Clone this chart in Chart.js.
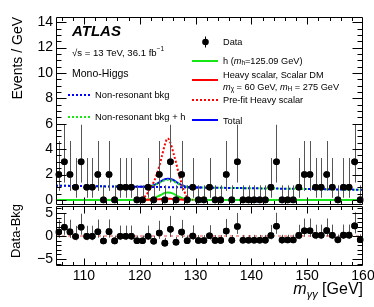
<!DOCTYPE html>
<html>
<head>
<meta charset="utf-8">
<script src="https://cdn.jsdelivr.net/npm/chart.js@4.4.1/dist/chart.umd.min.js"></script>
<style>
  html, body { margin: 0; padding: 0; background: #fff; }
  #wrap { position: relative; width: 374px; height: 307px; }
  canvas { position: absolute; left: 0; }
  #upper { top: 0; width: 374px; height: 206px; }
  #lower { top: 200px; width: 374px; height: 107px; }
</style>
</head>
<body>
<div id="wrap">
  <canvas id="upper" width="374" height="206"></canvas>
  <canvas id="lower" width="374" height="107"></canvas>
</div>
<script>
const FONT = '"Liberation Sans", Arial, Helvetica, sans-serif';

// 1 GeV bins
const binCenters = [105.5, 106.5, 107.5, 108.5, 109.5, 110.5, 111.5, 112.5, 113.5, 114.5,
    115.5, 116.5, 117.5, 118.5, 119.5, 120.5, 121.5, 122.5, 123.5, 124.5,
    125.5, 126.5, 127.5, 128.5, 129.5, 130.5, 131.5, 132.5, 133.5, 134.5,
    135.5, 136.5, 137.5, 138.5, 139.5, 140.5, 141.5, 142.5, 143.5, 144.5,
    145.5, 146.5, 147.5, 148.5, 149.5, 150.5, 151.5, 152.5, 153.5, 154.5,
    155.5, 156.5, 157.5, 158.5, 159.5];
const eventCounts = [2, 3, 2, 1, 3, 1, 1, 2, 0, 2,
    0, 1, 1, 1, 0, 0, 1, 0, 2, 0,
    3, 0, 2, 0, 1, 0, 0, 1, 0, 0,
    2, 0, 3, 0, 0, 0, 0, 0, 1, 3,
    0, 0, 0, 1, 2, 2, 1, 1, 2, 1,
    0, 1, 1, 3, 0];
const dataMinusBkg = [0.88, 1.89, 0.89, -0.10, 1.91, -0.09, -0.08, 0.92, -1.07, 0.94,
    -1.06, -0.05, -0.05, -0.04, -1.04, -1.04, -0.05, -1.15, 0.66, -1.55,
    1.44, -1.37, 0.85, -1.02, 0.01, -0.97, -0.97, 0.04, -0.95, -0.95,
    1.06, -0.94, 2.07, -0.93, -0.92, -0.91, -0.91, -0.90, 0.10, 2.11,
    -0.89, -0.88, -0.87, 0.13, 1.14, 1.14, 0.15, 0.16, 1.16, 0.17,
    -0.83, 0.18, 0.18, 2.19, -0.80];
// poisson error bars, indexed by the count in the bin
const errDown = [0, 0.83, 1.29, 1.63];
const errUp = [1.15, 2.30, 2.64, 2.92];

// fit curves, sampled at curveMass
const curveMass = [105, 110, 115, 119, 119.5, 120, 120.5, 121, 121.5, 122, 122.5, 123, 123.5, 124, 124.5,
    125, 125.5, 126, 126.5, 127, 127.5, 128, 128.5, 129, 129.5, 130, 130.5, 131,
    135, 140, 145, 150, 155, 160];
const nonResBkg = [1.12, 1.09, 1.06, 1.04, 1.04, 1.03, 1.03, 1.03, 1.02, 1.02, 1.02, 1.02, 1.01, 1.01, 1.01,
    1.00, 1.00, 1.00, 1.00, 0.99, 0.99, 0.99, 0.98, 0.98, 0.98, 0.97, 0.97, 0.97,
    0.95, 0.92, 0.89, 0.86, 0.83, 0.80];
const nonResBkgPlusH = [1.12, 1.09, 1.06, 1.04, 1.04, 1.03, 1.04, 1.04, 1.05, 1.09, 1.15, 1.24, 1.34, 1.45, 1.55,
    1.58, 1.56, 1.49, 1.37, 1.24, 1.15, 1.08, 1.02, 1.00, 0.99, 0.97, 0.97, 0.97,
    0.95, 0.92, 0.89, 0.86, 0.83, 0.80];
const higgsSM = [0, 0, 0, 0, 0, 0, 0.01, 0.01, 0.03, 0.07, 0.13, 0.22, 0.33, 0.44, 0.54,
    0.58, 0.56, 0.49, 0.37, 0.25, 0.16, 0.09, 0.04, 0.02, 0.01, 0, 0, 0,
    0, 0, 0, 0, 0, 0];
const heavyScalarFit = [null, null, null, null, 0, 0, 0, 0, 0.01, 0.01, 0.02, 0.03, 0.05, 0.07, 0.08,
    0.09, 0.09, 0.08, 0.06, 0.04, 0.03, 0.01, 0.01, 0, null, null, null, null,
    null, null, null, null, null, null];
const heavyScalarPrefit = [null, null, null, null, 0, 0.03, 0.15, 0.30, 0.60, 1.00, 1.40, 1.95, 2.65, 3.50, 4.35,
    4.85, 4.50, 3.75, 2.95, 2.05, 1.30, 0.66, 0.20, 0.05, 0, null, null, null,
    null, null, null, null, null, null];
const totalFit = [null, null, null, 1.04, 1.04, 1.03, 1.04, 1.04, 1.06, 1.10, 1.17, 1.27, 1.39, 1.52, 1.63,
    1.67, 1.65, 1.57, 1.43, 1.28, 1.18, 1.09, 1.03, 1.00, 0.99, 0.97, 0.97, 0.97,
    null, null, null, null, null, null];
const ratioLineMass = [105, 160];
const ratioLineValue = [0, 0];

const xMajorTicks = [110, 120, 130, 140, 150, 160];
const upperYTicks = [0, 2, 4, 6, 8, 10, 12, 14];
const lowerYTicks = [-5, 0, 5];

const BLUE = '#0000ff';
const GREEN = '#16e616';
const RED = '#ff0000';

const xy = (xs, ys) => xs.map((x, i) => ({ x: x, y: ys[i] }));

function curve(xs, ys, color, dash, order) {
    return {
        type: 'line',
        data: xy(xs, ys),
        borderColor: color,
        borderWidth: 2,
        borderDash: dash,
        pointRadius: 0,
        cubicInterpolationMode: 'monotone',
        spanGaps: false,
        order: order
    };
}

// y axis: fixed width, no extra room for the end labels
const fixedAxis = s => { s.width = 56; s.paddingTop = 0; s.paddingBottom = 0; };

const errorBars = {
    id: 'errorBars',
    afterDatasetDraw(chart, args, o) {
        if (args.index !== o.index) return;
        const { ctx, scales: { x, y } } = chart;
        ctx.save();
        ctx.strokeStyle = '#555';
        ctx.lineWidth = 1;
        ctx.beginPath();
        o.values.forEach((v, i) => {
            const n = eventCounts[i];
            const px = Math.round(x.getPixelForValue(binCenters[i])) + 0.5;
            ctx.moveTo(px, y.getPixelForValue(v - errDown[n]));
            ctx.lineTo(px, y.getPixelForValue(v + errUp[n]));
        });
        ctx.stroke();
        // redraw markers over the bars
        ctx.fillStyle = '#000';
        o.values.forEach((v, i) => {
            ctx.beginPath();
            ctx.arc(x.getPixelForValue(binCenters[i]), y.getPixelForValue(v), 3.3, 0, Math.PI * 2);
            ctx.fill();
        });
        ctx.restore();
    }
};

const atlasFrame = {
    id: 'atlasFrame',
    afterDraw(chart, args, o) {
        const { ctx, chartArea: a, scales: { x, y } } = chart;
        const L = Math.round(a.left) + 0.5, R = Math.round(a.right) - 0.5;
        const T = Math.round(a.top) + 0.5, B = Math.round(a.bottom) - 0.5;
        ctx.save();
        ctx.strokeStyle = '#000';
        ctx.lineWidth = 1;
        ctx.beginPath();
        ctx.rect(L, T, R - L, B - T);
        for (let v = 106; v < 160; v += 2) {
            const len = xMajorTicks.includes(v) ? o.xMajor : o.xMinor;
            const p = Math.round(x.getPixelForValue(v)) + 0.5;
            ctx.moveTo(p, B); ctx.lineTo(p, B - len);
            ctx.moveTo(p, T); ctx.lineTo(p, T + len);
        }
        for (let v = o.yFrom; v <= o.yTo + 1e-9; v += o.yStep) {
            const len = o.yMajorTicks.includes(v) ? o.yMajor : o.yMinor;
            const p = Math.round(y.getPixelForValue(v)) + 0.5;
            ctx.moveTo(L, p); ctx.lineTo(L + len, p);
            ctx.moveTo(R, p); ctx.lineTo(R - len, p);
        }
        ctx.stroke();
        ctx.restore();
    }
};

// draws a run of text pieces: [text, size, style, dy]
function richText(ctx, x, y, parts, align) {
    const fontOf = p => (p[2] || '') + ' ' + p[1] + 'px ' + FONT;
    let w = 0;
    parts.forEach(p => { ctx.font = fontOf(p); w += ctx.measureText(p[0]).width; });
    let cx = align === 'right' ? x - w : x;
    parts.forEach(p => {
        ctx.font = fontOf(p);
        ctx.fillText(p[0], cx, y + (p[3] || 0));
        cx += ctx.measureText(p[0]).width;
    });
}

function sampleLine(ctx, x1, x2, y, color, dash) {
    ctx.save();
    ctx.strokeStyle = color;
    ctx.lineWidth = 2;
    ctx.setLineDash(dash);
    ctx.beginPath();
    ctx.moveTo(x1, y);
    ctx.lineTo(x2, y);
    ctx.stroke();
    ctx.restore();
}

const upperText = {
    id: 'upperText',
    afterDraw(chart) {
        const ctx = chart.ctx;
        ctx.save();
        ctx.fillStyle = '#000';
        ctx.textBaseline = 'middle';

        ctx.save();
        ctx.translate(18, 17);
        ctx.rotate(-Math.PI / 2);
        ctx.textAlign = 'right';
        ctx.font = '14px ' + FONT;
        ctx.fillText('Events / GeV', 0, 0);
        ctx.restore();

        ctx.textAlign = 'left';
        richText(ctx, 72, 32, [['ATLAS', 15, 'italic bold']]);
        richText(ctx, 72, 53, [['\u221As = 13 TeV, 36.1 fb', 9.6], ['\u22121', 6.5, '', -4]]);
        richText(ctx, 72, 74, [['Mono-Higgs', 10.5]]);

        sampleLine(ctx, 68, 90, 95, BLUE, [2, 2]);
        richText(ctx, 95, 95, [['Non-resonant bkg', 9.4]]);
        sampleLine(ctx, 68, 90, 117, GREEN, [2, 2]);
        richText(ctx, 95, 117, [['Non-resonant bkg + h', 9.4]]);

        // data marker
        ctx.strokeStyle = '#000';
        ctx.lineWidth = 1;
        ctx.beginPath();
        ctx.moveTo(205.5, 36.5); ctx.lineTo(205.5, 47.5);
        ctx.stroke();
        ctx.beginPath();
        ctx.arc(205.5, 42, 3.3, 0, Math.PI * 2);
        ctx.fill();
        const fs = 9.2;
        richText(ctx, 223, 42, [['Data', fs]]);

        sampleLine(ctx, 192, 218, 61, GREEN, []);
        richText(ctx, 223, 61, [['h (', fs], ['m', fs, 'italic'], ['h', 6.5, '', 2.5], ['=125.09 GeV)', fs]]);
        sampleLine(ctx, 192, 218, 80, RED, []);
        richText(ctx, 223, 75, [['Heavy scalar, Scalar DM', fs]]);
        richText(ctx, 223, 87, [['m', fs, 'italic'], ['\u03C7', 6.5, '', 2.5], [' = 60 GeV, ', fs],
            ['m', fs, 'italic'], ['H', 6.5, '', 2.5], [' = 275 GeV', fs]]);
        sampleLine(ctx, 192, 218, 100, RED, [2, 2]);
        richText(ctx, 223, 100, [['Pre-fit Heavy scalar', fs]]);
        sampleLine(ctx, 192, 218, 120, BLUE, []);
        richText(ctx, 223, 121, [['Total', fs]]);
        ctx.restore();
    }
};

const lowerText = {
    id: 'lowerText',
    afterDraw(chart) {
        const ctx = chart.ctx;
        ctx.save();
        ctx.fillStyle = '#000';
        ctx.save();
        ctx.translate(16, 31);
        ctx.rotate(-Math.PI / 2);
        ctx.textAlign = 'center';
        ctx.textBaseline = 'middle';
        ctx.font = '13px ' + FONT;
        ctx.fillText('Data-Bkg', 0, 0);
        ctx.restore();
        ctx.textAlign = 'left';
        ctx.textBaseline = 'alphabetic';
        richText(ctx, 363, 94, [['m', 16, 'italic'], ['\u03B3\u03B3', 11, 'italic', 4], [' [GeV]', 16]], 'right');
        ctx.restore();
    }
};

const tickFont = { family: FONT, size: 14 };

new Chart(document.getElementById('upper'), {
    type: 'scatter',
    data: {
        datasets: [
            {
                data: xy(binCenters, eventCounts),
                pointRadius: 3.3,
                pointBackgroundColor: '#000',
                pointBorderWidth: 0,
                order: 0
            },
            curve(curveMass, heavyScalarPrefit, RED, [2, 2], 2),
            curve(curveMass, nonResBkg, BLUE, [2, 2], 3),
            curve(curveMass, nonResBkgPlusH, GREEN, [2, 2], 4),
            curve(curveMass, totalFit, BLUE, [], 5),
            curve(curveMass, heavyScalarFit, RED, [], 6),
            curve(curveMass, higgsSM, GREEN, [], 7)
        ]
    },
    options: {
        responsive: false,
        maintainAspectRatio: false,
        animation: false,
        events: [],
        layout: { autoPadding: false, padding: { top: 16.5, right: 11, left: 0, bottom: 1 } },
        plugins: {
            legend: { display: false },
            tooltip: { enabled: false },
            errorBars: { index: 0, values: eventCounts },
            atlasFrame: { xMajor: 7, xMinor: 3.5, yFrom: 0, yTo: 14, yStep: 0.5, yMajorTicks: upperYTicks, yMajor: 10, yMinor: 5 }
        },
        scales: {
            x: { type: 'linear', min: 105, max: 160, display: false },
            y: {
                min: -0.4,
                max: 14.45,
                afterBuildTicks: s => { s.ticks = upperYTicks.map(v => ({ value: v })); },
                afterFit: fixedAxis,
                ticks: { font: tickFont, color: '#000', padding: 3 },
                grid: { display: false, drawTicks: false },
                border: { display: false }
            }
        }
    },
    plugins: [errorBars, atlasFrame, upperText]
});

new Chart(document.getElementById('lower'), {
    type: 'scatter',
    data: {
        datasets: [
            {
                data: xy(binCenters, dataMinusBkg),
                pointRadius: 3.3,
                pointBackgroundColor: '#000',
                pointBorderWidth: 0,
                order: 0
            },
            {
                type: 'line',
                data: xy(ratioLineMass, ratioLineValue),
                borderColor: '#f4a4a4',
                borderWidth: 2,
                borderDash: [3, 3],
                pointRadius: 0,
                order: 1
            }
        ]
    },
    options: {
        responsive: false,
        maintainAspectRatio: false,
        animation: false,
        events: [],
        layout: { autoPadding: false, padding: { top: 6, right: 11, left: 0, bottom: 0 } },
        plugins: {
            legend: { display: false },
            tooltip: { enabled: false },
            errorBars: { index: 0, values: dataMinusBkg },
            atlasFrame: { xMajor: 7, xMinor: 3.5, yFrom: -6, yTo: 6, yStep: 1, yMajorTicks: lowerYTicks, yMajor: 10, yMinor: 5 }
        },
        scales: {
            x: {
                type: 'linear',
                min: 105,
                max: 160,
                afterBuildTicks: s => { s.ticks = xMajorTicks.map(v => ({ value: v })); },
                afterFit: s => { s.height = 41; s.paddingLeft = 0; s.paddingRight = 0; },
                ticks: { font: tickFont, color: '#000', padding: 2, maxRotation: 0, autoSkip: false },
                grid: { display: false, drawTicks: false },
                border: { display: false }
            },
            y: {
                min: -6.5,
                max: 6.5,
                afterBuildTicks: s => { s.ticks = lowerYTicks.map(v => ({ value: v })); },
                afterFit: fixedAxis,
                ticks: {
                    font: tickFont, color: '#000', padding: 3,
                    callback: v => v < 0 ? '\u2212' + Math.abs(v) : String(v)
                },
                grid: { display: false, drawTicks: false },
                border: { display: false }
            }
        }
    },
    plugins: [errorBars, atlasFrame, lowerText]
});
</script>
</body>
</html>
